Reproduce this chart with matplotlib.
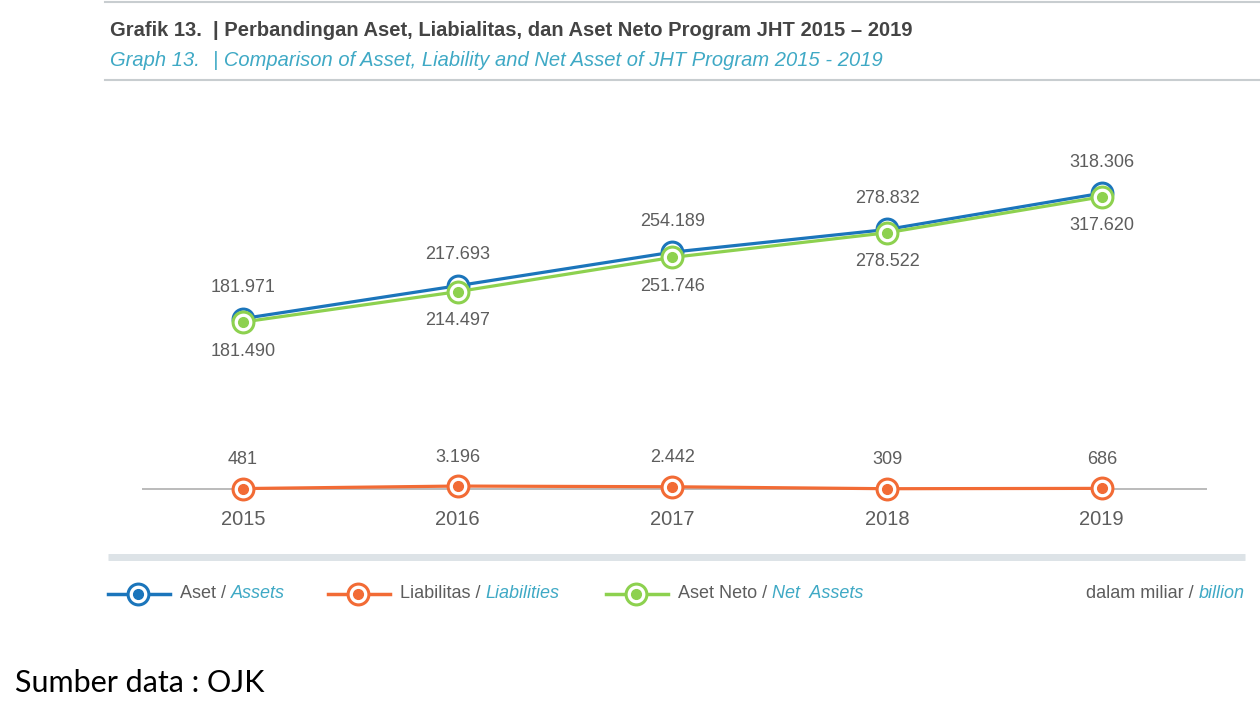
"""Perbandingan Aset, Liabilitas dan Aset Neto Program JHT 2015-2019."""
import matplotlib
matplotlib.use('Agg')
import matplotlib.pyplot as plt
from matplotlib.transforms import offset_copy

years = [2015, 2016, 2017, 2018, 2019]
aset = [181971, 217693, 254189, 278832, 318306]
liabilitas = [481, 3196, 2442, 309, 686]
aset_neto = [181490, 214497, 251746, 278522, 317620]

BLUE = '#1b75bb'
ORANGE = '#f26b35'
GREEN = '#8dd14f'
GRAY = '#5d5d5d'
DARK = '#444444'
TEAL = '#3fa9c5'

plt.rcParams['font.family'] = ['Liberation Sans', 'DejaVu Sans']

W, H = 1260, 706


def fx(px):
    return px / W


def fy(py):
    return 1 - py / H


def fmt(v):
    return f'{v:,}'.replace(',', '.')


fig = plt.figure(figsize=(W / 100, H / 100), dpi=100)
bg = fig.add_axes([0, 0, 1, 1])
bg.set_xlim(0, W)
bg.set_ylim(H, 0)
bg.axis('off')

# frame lines
bg.plot([105, 1260], [2, 2], color='#c8cdd0', lw=1.5)
bg.plot([105, 1260], [80, 80], color='#c8cdd0', lw=1.5)
bg.plot([108, 1245], [557, 557], color='#dde3e7', lw=5, solid_capstyle='butt')

# title
bg.text(110, 31, 'Grafik 13.', fontsize=14.5, color=DARK, va='center', weight='bold')
bg.text(213, 31, '| Perbandingan Aset, Liabialitas, dan Aset Neto Program JHT 2015 \u2013 2019',
        fontsize=14.5, color=DARK, va='center', weight='bold')
bg.text(110, 61, 'Graph 13.', fontsize=14.5, color=TEAL, va='center', style='italic')
bg.text(213, 61, '| Comparison of Asset, Liability and Net Asset of JHT Program 2015 - 2019',
        fontsize=14.5, color=TEAL, va='center', style='italic')

# chart
ax = fig.add_axes([fx(142), fy(540), fx(1207) - fx(142), (540 - 100) / H])
ax.set_xlim(2014.53, 2019.49)
ax.set_ylim(-55435, 422826)
ax.axis('off')
ax.axhline(0, color='#b5b5b5', lw=1.3, zorder=1)

up = offset_copy(ax.transData, fig=fig, x=0, y=3, units='dots')


def series(vals, color, trans, z):
    ax.plot(years, vals, color=color, lw=2.3, marker='o', ms=15, mfc='white',
            mec=color, mew=2.2, transform=trans, zorder=z)
    ax.plot(years, vals, ls='none', marker='o', ms=7, color=color,
            transform=trans, zorder=z + 0.5)


series(aset, BLUE, up, 3)
series(aset_neto, GREEN, ax.transData, 4)
series(liabilitas, ORANGE, ax.transData, 4)

for x, a, n, l in zip(years, aset, aset_neto, liabilitas):
    ax.annotate(fmt(a), (x, a), xytext=(0, 34), textcoords='offset pixels',
                ha='center', va='center', fontsize=13, color=GRAY)
    ax.annotate(fmt(n), (x, n), xytext=(0, -29), textcoords='offset pixels',
                ha='center', va='center', fontsize=13, color=GRAY)
    ax.annotate(fmt(l), (x, l), xytext=(0, 29), textcoords='offset pixels',
                ha='center', va='center', fontsize=13, color=GRAY)
    ax.annotate(str(x), (x, 0), xytext=(0, -31), textcoords='offset pixels',
                ha='center', va='center', fontsize=14.5, color=GRAY)

# legend
ly = 594
for x0, x1, color, label, label_en in [
        (108, 170, BLUE, 'Aset / ', 'Assets'),
        (328, 390, ORANGE, 'Liabilitas / ', 'Liabilities'),
        (606, 668, GREEN, 'Aset Neto / ', 'Net  Assets')]:
    bg.plot([x0, x1], [ly, ly], color=color, lw=2.5)
    mid = (x0 + x1) / 2 - 1
    bg.plot([mid], [ly], marker='o', ms=15, mfc='white', mec=color, mew=2.2)
    bg.plot([mid], [ly], marker='o', ms=7, color=color)
    t = bg.text(x1 + 10, ly, label, fontsize=13, color=GRAY, va='center')
    bg.annotate(label_en, xy=(1, 0.5), xycoords=t, va='center', ha='left',
                fontsize=13, color=TEAL, style='italic')

tb = bg.text(1245, ly, 'billion', fontsize=13, color=TEAL, va='center',
             ha='right', style='italic')
bg.annotate('dalam miliar / ', xy=(0, 0.5), xycoords=tb, va='center', ha='right',
            fontsize=13, color=GRAY)

# source
bg.text(15, 683, 'Sumber data : OJK', fontsize=22, color='black', va='center',
        family=['Lato', 'DejaVu Sans'])

fig.savefig('out.png', dpi=100)
